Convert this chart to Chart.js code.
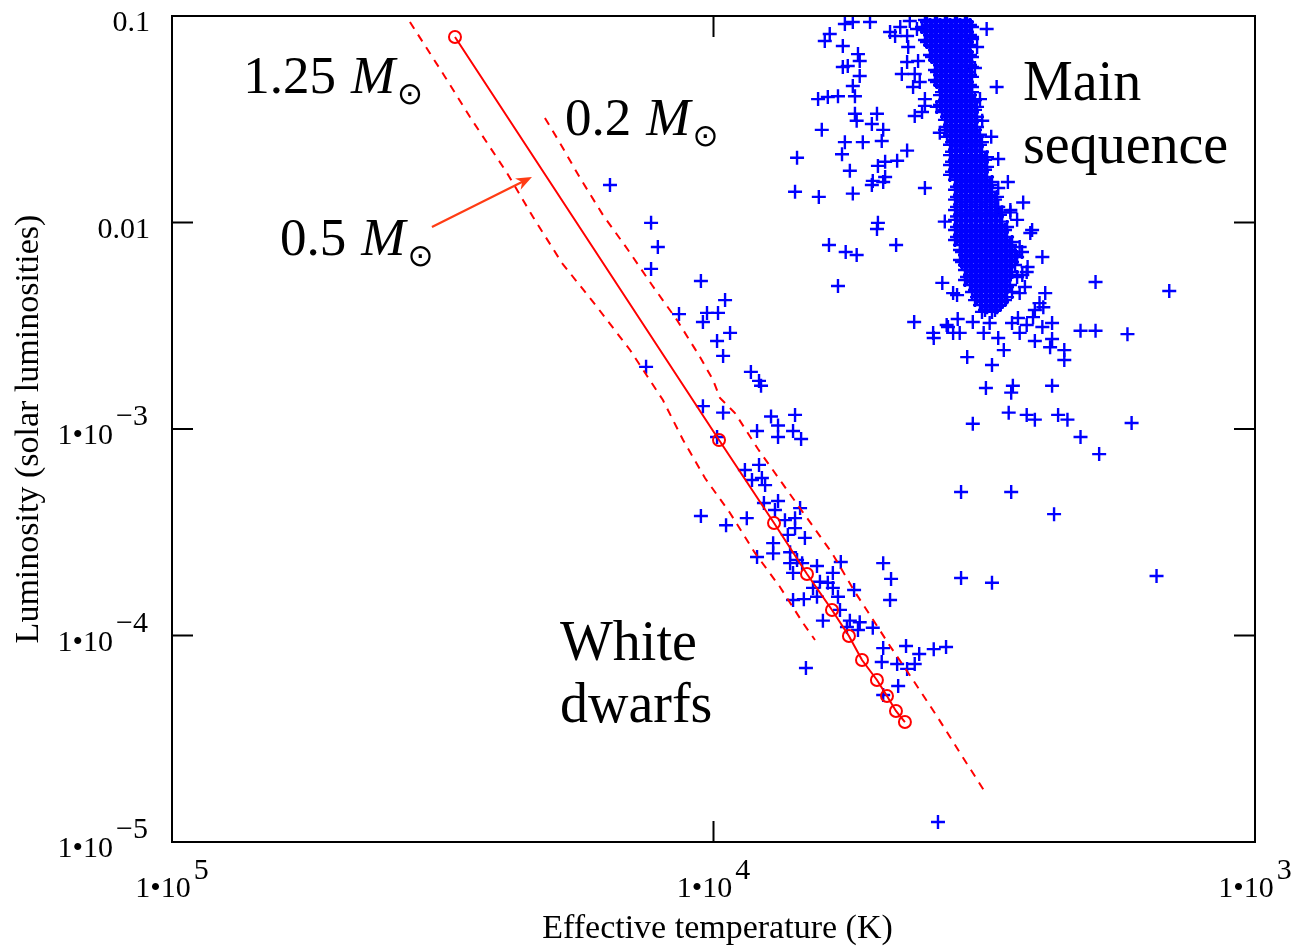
<!DOCTYPE html>
<html>
<head>
<meta charset="utf-8">
<title>White dwarfs and the main sequence</title>
<script src="https://cdn.jsdelivr.net/npm/chart.js@4.4.0/dist/chart.umd.min.js"></script>
<style>
  html, body { margin: 0; padding: 0; background: #fff; }
  #hr { display: block; }
</style>
</head>
<body>
<canvas id="hr" width="1295" height="948"></canvas>
<script>
// cooling tracks: effective temperature (K) and luminosity (solar units)
const track05T = [30020, 9768, 7731, 6720, 6042, 5622, 5318, 4991, 4782, 4603, 4431];
const track05L = [0.0791, 0.000884, 0.0003506, 0.0001986, 0.0001329, 0.0000994, 0.0000761, 0.0000609, 0.0000509, 0.0000431, 0.0000381];

const track125T = [36360, 31310, 28160, 24060, 21540, 19050, 16410, 14260, 12400, 11380, 10370, 9322, 8384, 7537, 6834, 6495];
const track125L = [0.0935, 0.0507, 0.0324, 0.01737, 0.01063, 0.00637, 0.003898, 0.002413, 0.001381, 0.000884, 0.000579, 0.000392, 0.000251, 0.0001717, 0.0001149, 0.0000951];

const track02T = [20480, 19210, 17640, 16000, 14380, 12990, 11680, 10590, 10020, 9727, 9128, 8276, 7473, 6720, 6042, 5480, 5184, 4722, 4281, 3849, 3505, 3152];
const track02L = [0.0321, 0.02427, 0.01643, 0.01087, 0.00736, 0.00498, 0.00337, 0.002232, 0.001727, 0.001413, 0.001195, 0.0008, 0.000548, 0.000371, 0.000251, 0.0001624, 0.00013, 0.000089, 0.0000609, 0.0000399, 0.000027, 0.00001746];

// dense main-sequence band, read row by row (luminosity, then temperatures in that row)
const msBandL = [0.0956, 0.0904, 0.0855, 0.0809, 0.0765, 0.0724, 0.0684, 0.0647, 0.0612, 0.0579,
  0.0548, 0.0518, 0.049, 0.0463, 0.0438, 0.0414, 0.0392, 0.0371, 0.0351, 0.0332,
  0.0314, 0.0297, 0.0281, 0.0266, 0.0251, 0.0238, 0.0225, 0.0212, 0.0201, 0.019,
  0.018, 0.017, 0.0161, 0.0152, 0.0144, 0.0136, 0.0129, 0.0122, 0.0115, 0.0109,
  0.0103, 0.00972, 0.0092, 0.0087, 0.00823, 0.00778, 0.00736, 0.00696, 0.00658, 0.00623,
  0.00589, 0.00557, 0.00527, 0.00498, 0.00471, 0.00445, 0.00421, 0.00398, 0.00377];
const msBandT = [
  [4069, 3899, 3737, 3581, 3432], [3983, 3817, 3658, 3506, 3360], [4069, 3899, 3737, 3581, 3432],
  [3983, 3817, 3658, 3506, 3360], [4069, 3899, 3737, 3581, 3432], [3983, 3817, 3658, 3506, 3360],
  [3899, 3737, 3581, 3432], [3983, 3817, 3658, 3506, 3360], [3899, 3737, 3581, 3432],
  [3817, 3658, 3506, 3360], [3899, 3737, 3581, 3432], [3817, 3658, 3506, 3360],
  [3899, 3737, 3581, 3432], [3817, 3658, 3506, 3360], [3737, 3581, 3432],
  [3817, 3658, 3506, 3360], [3737, 3581, 3432, 3289], [3817, 3658, 3506, 3360],
  [3737, 3581, 3432, 3289], [3658, 3506, 3360], [3737, 3581, 3432, 3289],
  [3658, 3506, 3360], [3737, 3581, 3432, 3289], [3658, 3506, 3360, 3220],
  [3581, 3432, 3289], [3658, 3506, 3360, 3220], [3581, 3432, 3289],
  [3658, 3506, 3360, 3220], [3581, 3432, 3289, 3152], [3658, 3506, 3360, 3220],
  [3581, 3432, 3289, 3152], [3658, 3506, 3360, 3220], [3581, 3432, 3289, 3152],
  [3506, 3360, 3220, 3086], [3581, 3432, 3289, 3152], [3506, 3360, 3220, 3086],
  [3581, 3432, 3289, 3152, 3021], [3506, 3360, 3220, 3086], [3581, 3432, 3289, 3152, 3021],
  [3506, 3360, 3220, 3086, 2957], [3581, 3432, 3289, 3152, 3021], [3506, 3360, 3220, 3086, 2957],
  [3581, 3432, 3289, 3152, 3021, 2895], [3506, 3360, 3220, 3086, 2957], [3581, 3432, 3289, 3152, 3021, 2895],
  [3506, 3360, 3220, 3086, 2957, 2834], [3506, 3360, 3220, 3086, 2957, 2834], [3432, 3289, 3152, 3021, 2895, 2774],
  [3506, 3360, 3220, 3086, 2957, 2834], [3432, 3289, 3152, 3021, 2895, 2774],
  [3432, 3289, 3152, 3021, 2895], [3360, 3220, 3086, 2957, 2834], [3432, 3289, 3152, 3021, 2895],
  [3360, 3220, 3086, 2957, 2834], [3289, 3152, 3021, 2895], [3220, 3086, 2957],
  [3289, 3152, 3021, 2895], [3220, 3086, 2957], [3152, 3021]
];
// second pass over the same band, rows lying between the ones above
const msBandL2 = [0.0935, 0.0884, 0.0836, 0.0791, 0.0748, 0.0708, 0.0669, 0.0633, 0.0599, 0.0566,
  0.0536, 0.0507, 0.0479, 0.0453, 0.0428, 0.0405, 0.0383, 0.0363, 0.0343, 0.0325,
  0.0307, 0.029, 0.0275, 0.026, 0.0245, 0.0233, 0.022, 0.0207, 0.0197, 0.0186,
  0.0176, 0.0166, 0.0157, 0.0149, 0.0141, 0.0133, 0.0126, 0.0119, 0.0112, 0.0107,
  0.0101, 0.00951, 0.009, 0.00851, 0.00805, 0.00761, 0.0072, 0.00681, 0.00644, 0.00609,
  0.00576, 0.00545, 0.00515, 0.00487, 0.00461, 0.00435, 0.00412, 0.00389, 0.00369];
const msBandT2 = [
  [4034, 3866, 3705, 3551, 3403], [4121, 3949, 3785, 3627, 3476, 3331], [4034, 3866, 3705, 3551, 3403],
  [3949, 3785, 3627, 3476, 3331], [4034, 3866, 3705, 3551, 3403], [3949, 3785, 3627, 3476],
  [3866, 3705, 3551, 3403], [3949, 3785, 3627, 3476, 3331], [3866, 3705, 3551, 3403],
  [3785, 3627, 3476, 3331], [3866, 3705, 3551, 3403], [3785, 3627, 3476, 3331],
  [3866, 3705, 3551, 3403], [3785, 3627, 3476, 3331], [3785, 3627, 3476, 3331],
  [3705, 3551, 3403], [3785, 3627, 3476, 3331], [3705, 3551, 3403, 3261],
  [3785, 3627, 3476, 3331], [3705, 3551, 3403, 3261], [3627, 3476, 3331],
  [3705, 3551, 3403, 3261], [3627, 3476, 3331], [3705, 3551, 3403, 3261],
  [3627, 3476, 3331, 3193], [3551, 3403, 3261], [3627, 3476, 3331, 3193],
  [3551, 3403, 3261, 3125], [3627, 3476, 3331, 3193], [3551, 3403, 3261, 3125],
  [3627, 3476, 3331, 3193], [3551, 3403, 3261, 3125], [3476, 3331, 3193, 3060],
  [3551, 3403, 3261, 3125], [3476, 3331, 3193, 3060], [3551, 3403, 3261, 3125, 2995],
  [3476, 3331, 3193, 3060], [3551, 3403, 3261, 3125, 2995], [3476, 3331, 3193, 3060, 2932],
  [3551, 3403, 3261, 3125, 2995], [3476, 3331, 3193, 3060, 2932], [3551, 3403, 3261, 3125, 2995, 2870],
  [3476, 3331, 3193, 3060, 2932], [3551, 3403, 3261, 3125, 2995, 2870], [3476, 3331, 3193, 3060, 2932, 2810],
  [3403, 3261, 3125, 2995, 2870], [3476, 3331, 3193, 3060, 2932, 2810, 2693], [3403, 3261, 3125, 2995, 2870, 2750],
  [3476, 3331, 3193, 3060, 2932, 2810], [3403, 3261, 3125, 2995, 2870], [3331, 3193, 3060, 2932, 2810],
  [3403, 3261, 3125, 2995, 2870, 2750], [3331, 3193, 3060, 2932], [3261, 3125, 2995, 2870],
  [3331, 3193, 3060, 2932, 2810], [3261, 3125, 2995, 2870], [3193, 3060, 2932],
  [3125, 2995], [3193, 3060]
];

// scattered stars around the main sequence [T, L]
const msStars = [
  [6230, 0.0757], [6100, 0.0818], [5770, 0.0716], [5720, 0.0914], [5530, 0.0935], [5140, 0.0935],
  [5410, 0.0654], [5370, 0.0605], [5770, 0.0566], [5650, 0.0573], [5370, 0.0512], [5530, 0.0458],
  [6410, 0.0396], [6150, 0.0405], [5890, 0.0409], [5480, 0.0409], [5480, 0.0336], [5440, 0.0311],
  [4990, 0.0336], [5100, 0.03], [4860, 0.0281], [6310, 0.0281], [5720, 0.0245], [5790, 0.0214],
  [5300, 0.0245], [4890, 0.0248], [4390, 0.0223], [5600, 0.0178], [4970, 0.0188], [4820, 0.0197],
  [4580, 0.0199], [4820, 0.0166], [5080, 0.0159], [7010, 0.0206], [4620, 0.08], [4720, 0.0836],
  [4390, 0.08], [4210, 0.0865], [4340, 0.0945], [4520, 0.0884], [4370, 0.0708], [4490, 0.0524],
  [4250, 0.0524], [4190, 0.0605], [4390, 0.0599], [4280, 0.0453], [4160, 0.0479], [4070, 0.0396],
  [4070, 0.0367], [4250, 0.0328], [3870, 0.0363], [4120, 0.0343], [7070, 0.0141], [6390, 0.0133],
  [5530, 0.0138], [5100, 0.0152], [4860, 0.0157], [4970, 0.00996], [4990, 0.0093], [6120, 0.00778],
  [5700, 0.0072], [5440, 0.00696], [4600, 0.00778], [5890, 0.00493], [4260, 0.0033], [4070, 0.0147],
  [3740, 0.0101], [3780, 0.0051], [3930, 0.00292], [3820, 0.0272],
  [3130, 0.0865], [3290, 0.056], [3000, 0.0453], [3070, 0.026], [2980, 0.0203], [2860, 0.0157],
  [2980, 0.0147], [2680, 0.0125], [2830, 0.0112], [2580, 0.0092], [2470, 0.00681], [2440, 0.00455],
  [2500, 0.00407], [2720, 0.00455], [2640, 0.00576], [2370, 0.00326], [2100, 0.00299], [1970, 0.00299],
  [1720, 0.00288], [1970, 0.00515], [1440, 0.00466], [3330, 0.0774], [3260, 0.0708], [3220, 0.0396],
  [3190, 0.0311],
  [3550, 0.00445], [3920, 0.00276], [3690, 0.00312], [3540, 0.00341], [3510, 0.00292], [3320, 0.0033],
  [3170, 0.00292], [2980, 0.00276], [3090, 0.00326], [2810, 0.00326], [2720, 0.00292], [2640, 0.00319],
  [2550, 0.00267], [2370, 0.00273], [2390, 0.00249], [2470, 0.00312], [2250, 0.00241], [2250, 0.00216],
  [2910, 0.00241], [3400, 0.00223], [3060, 0.00204], [3140, 0.00158], [2800, 0.00162], [2820, 0.0015],
  [2370, 0.00162], [2850, 0.0012], [2640, 0.00117], [2550, 0.00111], [2310, 0.00117], [2220, 0.00111],
  [3320, 0.00106], [1690, 0.00107], [2100, 0.000915], [1940, 0.000756], [3490, 0.000495], [2820, 0.000495],
  [2350, 0.000387], [4860, 0.000224], [4700, 0.000188], [3490, 0.00019], [3060, 0.00018], [1520, 0.000194],
  [4720, 0.0001485], [3850, 0.0000125],
  [2720, 0.00761], [2630, 0.00609], [2690, 0.00557], [2660, 0.00487], [2550, 0.00377], [2460, 0.00389],
  [2740, 0.00345], [2570, 0.00348], [2750, 0.0103], [2830, 0.0115], [3610, 0.00455], [3610, 0.00292],
  [3710, 0.00319], [2600, 0.0089], [2980, 0.0119]
];

// white dwarf candidates [T, L]
const wdStars = [
  [15530, 0.0152], [13040, 0.00996], [12670, 0.00761], [13040, 0.00596], [10550, 0.00521], [9520, 0.00421],
  [11580, 0.0036], [10280, 0.00365], [9810, 0.00365], [10460, 0.0033], [9320, 0.00292], [9850, 0.00267],
  [9600, 0.00226], [13320, 0.002], [8530, 0.00189], [8240, 0.00171], [8170, 0.00162], [10460, 0.00129],
  [9600, 0.0012], [7830, 0.00115], [7070, 0.00117], [7600, 0.00104], [8310, 0.000978], [7600, 0.000915],
  [7130, 0.000978], [6890, 0.000895], [9850, 0.000915], [8750, 0.000633], [8240, 0.00067], [8140, 0.000579],
  [8490, 0.000566], [8030, 0.000535], [10550, 0.000379], [9480, 0.000342], [8680, 0.00037], [8070, 0.000438],
  [7600, 0.000448], [7700, 0.000405], [6920, 0.000414], [7380, 0.000362], [7070, 0.00037], [7070, 0.000331],
  [6780, 0.000297], [7760, 0.00028], [7290, 0.000307], [8310, 0.00024], [7760, 0.00025], [7220, 0.000253],
  [7010, 0.000232], [7220, 0.000224], [7130, 0.000201], [6860, 0.000224], [6440, 0.000217], [5820, 0.000227],
  [6020, 0.000201], [6360, 0.000182], [6150, 0.00018], [6550, 0.00017], [6020, 0.00017], [5500, 0.000166],
  [5890, 0.000154], [7130, 0.0001485], [6810, 0.00015], [6440, 0.000154], [5840, 0.000133], [6280, 0.000118],
  [5600, 0.000118], [5370, 0.000116], [5670, 0.00011], [5410, 0.0001063], [5080, 0.000109], [4860, 0.0000869],
  [4410, 0.0000889], [4170, 0.0000813], [3920, 0.0000859], [3720, 0.0000879], [4890, 0.0000744], [4580, 0.0000728],
  [4250, 0.0000728], [4390, 0.0000689], [4560, 0.0000569], [6750, 0.0000696], [4860, 0.0000515]
];

// axis ticks
const xTickValues = [100000, 10000, 1000];
const xTickText = [['1•10', '5'], ['1•10', '4'], ['1•10', '3']];
const yTickValues = [0.00001, 0.0001, 0.001, 0.01, 0.1];
const yTickText = [['1•10', '−5'], ['1•10', '−4'], ['1•10', '−3'], ['0.01', ''], ['0.1', '']];

// annotations, anchored in data coordinates
const massLabels = [['1.25', 73900, 0.0424], ['0.2', 18800, 0.02653], ['0.5', 63180, 0.006962]];
const regionLabels = [['Main', 2682, 0.0392], ['sequence', 2682, 0.01941], ['White', 19210, 0.0000761], ['dwarfs', 19210, 0.0000381]];
const arrowFrom = [33110, 0.00951];
const arrowTo = [21640, 0.0166];

const RED = '#ff0000';
const BLUE = '#0000ff';
const SERIF = '"Liberation Serif", "Times New Roman", serif';

const toPoints = (ts, ls) => ts.map((t, i) => ({ x: t, y: ls[i] }));
const pairs = list => list.map(([t, l]) => ({ x: t, y: l }));
const rows = (ls, ts) => ls.flatMap((l, i) => ts[i].map(t => ({ x: t, y: l })));
const bandPoints = rows(msBandL, msBandT).concat(rows(msBandL2, msBandT2));

const decorations = {
  id: 'decorations',
  afterDraw(chart) {
    const { ctx, chartArea: a, scales: { x, y } } = chart;
    ctx.save();

    // frame with inward ticks
    ctx.strokeStyle = '#000';
    ctx.lineWidth = 2;
    ctx.strokeRect(a.left, a.top, a.right - a.left, a.bottom - a.top);
    ctx.beginPath();
    yTickValues.forEach(v => {
      const py = y.getPixelForValue(v);
      ctx.moveTo(a.left, py); ctx.lineTo(a.left + 21, py);
      ctx.moveTo(a.right, py); ctx.lineTo(a.right - 21, py);
    });
    xTickValues.forEach(v => {
      const px = x.getPixelForValue(v);
      ctx.moveTo(px, a.bottom); ctx.lineTo(px, a.bottom - 21);
      ctx.moveTo(px, a.top); ctx.lineTo(px, a.top + 21);
    });
    ctx.stroke();

    // tick labels with raised exponents
    ctx.fillStyle = '#000';
    ctx.font = '30px ' + SERIF;
    ctx.textBaseline = 'alphabetic';
    yTickValues.forEach((v, i) => {
      const py = y.getPixelForValue(v);
      const [base, sup] = yTickText[i];
      const wSup = sup ? ctx.measureText(sup).width + 5 : 0;
      ctx.textAlign = 'right';
      if (sup) ctx.fillText(sup, a.left - 24, py - 4);
      ctx.fillText(base, a.left - 22 - wSup, py + 15);
    });
    xTickValues.forEach((v, i) => {
      const px = x.getPixelForValue(v);
      const [base, sup] = xTickText[i];
      const wb = ctx.measureText(base).width;
      const ws = ctx.measureText(sup).width;
      const start = px - (wb + ws + 3) / 2;
      ctx.textAlign = 'left';
      ctx.fillText(base, start, a.bottom + 55);
      ctx.fillText(sup, start + wb + 3, a.bottom + 37);
    });

    // axis titles
    ctx.font = '34px ' + SERIF;
    ctx.textAlign = 'center';
    ctx.fillText('Effective temperature (K)', (a.left + a.right) / 2 + 4, 938);
    ctx.save();
    ctx.translate(38, (a.top + a.bottom) / 2);
    ctx.rotate(-Math.PI / 2);
    ctx.fillText('Luminosity (solar luminosities)', 0, 0);
    ctx.restore();

    // mass labels: number, italic M, subscript sun symbol
    massLabels.forEach(([num, t, l]) => {
      const px = x.getPixelForValue(t), py = y.getPixelForValue(l);
      ctx.textAlign = 'left';
      ctx.textBaseline = 'alphabetic';
      ctx.font = '53px ' + SERIF;
      ctx.fillText(num, px, py);
      let cx = px + ctx.measureText(num).width + 15;
      ctx.font = 'italic 53px ' + SERIF;
      ctx.fillText('M', cx, py);
      cx += ctx.measureText('M').width;
      ctx.font = '31px "DejaVu Sans", sans-serif';
      ctx.textAlign = 'center';
      ctx.textBaseline = 'middle';
      ctx.fillText('⊙', cx + 15, py + 3);
    });

    // region labels
    ctx.font = '56px ' + SERIF;
    ctx.textAlign = 'left';
    ctx.textBaseline = 'alphabetic';
    regionLabels.forEach(([txt, t, l]) => {
      ctx.fillText(txt, x.getPixelForValue(t), y.getPixelForValue(l));
    });

    // arrow pointing at the 0.5 solar-mass track
    const x0 = x.getPixelForValue(arrowFrom[0]), y0 = y.getPixelForValue(arrowFrom[1]);
    const x1 = x.getPixelForValue(arrowTo[0]), y1 = y.getPixelForValue(arrowTo[1]);
    const ang = Math.atan2(y1 - y0, x1 - x0);
    ctx.strokeStyle = '#ff3c14';
    ctx.fillStyle = '#ff3c14';
    ctx.lineWidth = 2.2;
    ctx.beginPath();
    ctx.moveTo(x0, y0);
    ctx.lineTo(x1 - 10 * Math.cos(ang), y1 - 10 * Math.sin(ang));
    ctx.stroke();
    ctx.beginPath();
    ctx.moveTo(x1, y1);
    ctx.lineTo(x1 - 17 * Math.cos(ang - 0.38), y1 - 17 * Math.sin(ang - 0.38));
    ctx.lineTo(x1 - 11 * Math.cos(ang), y1 - 11 * Math.sin(ang));
    ctx.lineTo(x1 - 17 * Math.cos(ang + 0.38), y1 - 17 * Math.sin(ang + 0.38));
    ctx.closePath();
    ctx.fill();

    ctx.restore();
  }
};

new Chart(document.getElementById('hr'), {
  type: 'scatter',
  data: {
    datasets: [
      {
        label: '0.5 solar masses',
        data: toPoints(track05T, track05L),
        showLine: true,
        borderColor: RED,
        borderWidth: 2,
        pointStyle: 'circle',
        pointRadius: 6,
        pointBorderWidth: 2,
        pointBorderColor: RED,
        pointBackgroundColor: 'rgba(0,0,0,0)'
      },
      {
        label: '1.25 solar masses',
        data: toPoints(track125T, track125L),
        showLine: true,
        borderColor: RED,
        borderWidth: 2,
        borderDash: [8, 7],
        pointRadius: 0
      },
      {
        label: '0.2 solar masses',
        data: toPoints(track02T, track02L),
        showLine: true,
        borderColor: RED,
        borderWidth: 2,
        borderDash: [8, 7],
        pointRadius: 0
      },
      {
        label: 'Stars',
        data: bandPoints.concat(pairs(msStars), pairs(wdStars)),
        pointStyle: 'cross',
        pointRadius: 7,
        pointBorderWidth: 2.4,
        pointBorderColor: BLUE,
        pointBackgroundColor: BLUE,
        clip: 0
      }
    ]
  },
  options: {
    responsive: false,
    animation: false,
    devicePixelRatio: 1,
    layout: { padding: { top: 16, right: 40, left: 0, bottom: 0 } },
    plugins: { legend: { display: false }, tooltip: { enabled: false } },
    scales: {
      x: {
        type: 'logarithmic', reverse: true, min: 1000, max: 100000,
        grid: { display: false }, border: { display: false }, ticks: { display: false },
        afterFit: s => { s.height = 106; }
      },
      y: {
        type: 'logarithmic', min: 0.00001, max: 0.1,
        grid: { display: false }, border: { display: false }, ticks: { display: false },
        afterFit: s => { s.width = 172; }
      }
    }
  },
  plugins: [decorations]
});
</script>
</body>
</html>
